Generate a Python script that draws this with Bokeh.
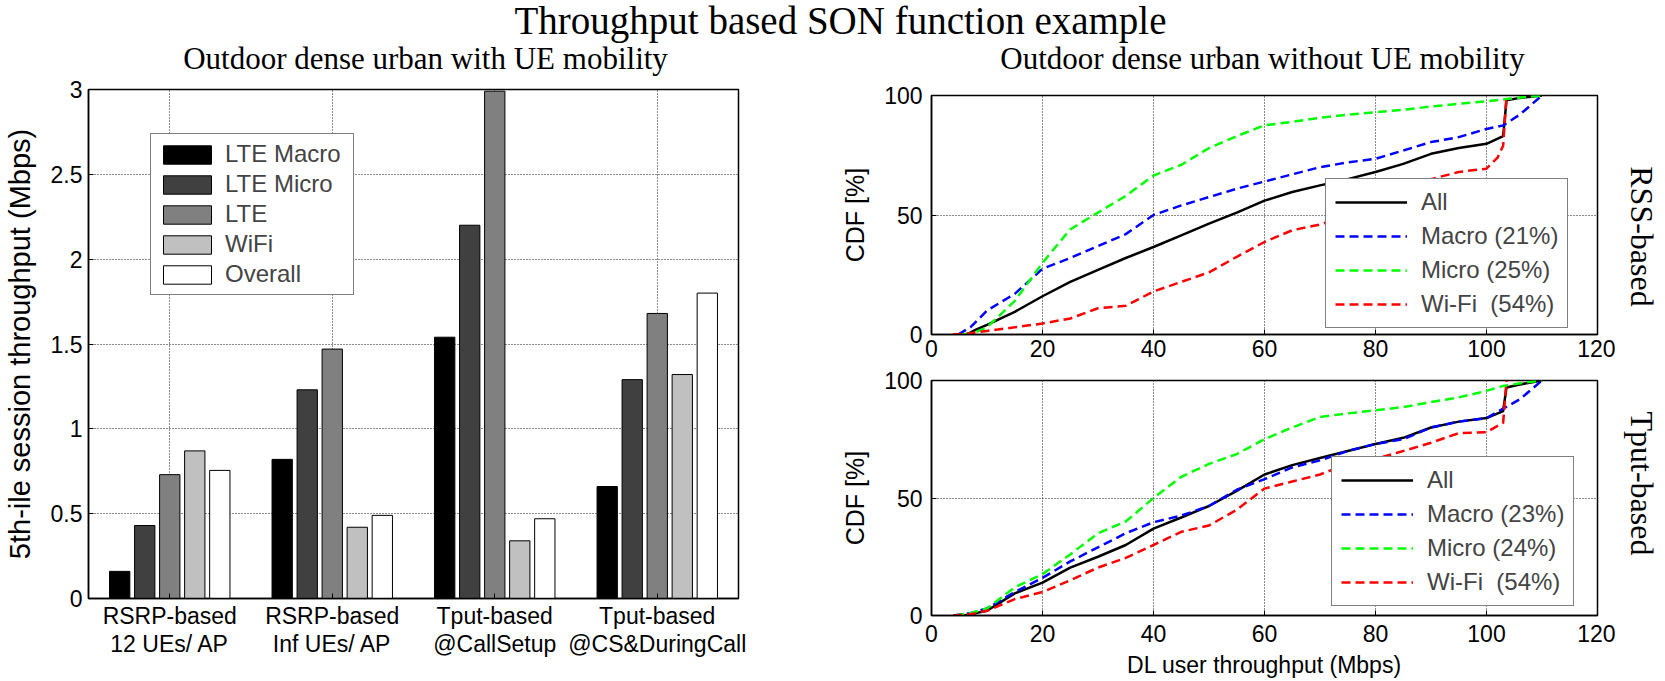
import math
from bokeh.plotting import figure
from bokeh.models import Legend, LegendItem, Label, FixedTicker
from bokeh.layouts import row, column
from bokeh.embed import file_html
from bokeh.resources import INLINE

SANS = "Liberation Sans"
SERIF = "Liberation Serif"

# ---------------- texts ----------------
main_title = "Throughput based SON function example"
left_subtitle = "Outdoor dense urban with UE mobility"
right_subtitle = "Outdoor dense urban without UE mobility"

# ---------------- data: left bar chart ----------------
categories = ["RSRP-based\n12 UEs/ AP", "RSRP-based\nInf UEs/ AP",
              "Tput-based\n@CallSetup", "Tput-based\n@CS&DuringCall"]
series_names = ["LTE Macro", "LTE Micro", "LTE", "WiFi", "Overall"]
lte_macro = [0.16, 0.82, 1.54, 0.66]
lte_micro = [0.43, 1.23, 2.20, 1.29]
lte_all = [0.73, 1.47, 2.99, 1.68]
wifi = [0.87, 0.42, 0.34, 1.32]
overall = [0.755, 0.49, 0.47, 1.80]
bar_colors = ["#000000", "#404040", "#808080", "#c0c0c0", "#ffffff"]
y_ticks_left = [0, 0.5, 1, 1.5, 2, 2.5, 3]
y_tick_labels_left = ["0", "0.5", "1", "1.5", "2", "2.5", "3"]

# ---------------- data: CDF, RSS-based ----------------
rss_all_x = [6.3, 8, 10, 15, 20, 25, 30, 35, 40, 45, 50, 55, 60, 65, 70, 75, 80, 85, 90, 95, 100, 103, 103.6, 106, 110]
rss_all_y = [0, 2, 4, 9.5, 16, 22, 27, 32, 36.6, 41.5, 46.4, 51, 56, 59.6, 62.4, 65, 68, 71.4, 75.6, 78, 79.8, 83, 98, 99, 100]
rss_macro_x = [4.8, 7, 10, 15, 20, 25, 30, 35, 40, 45, 50, 55, 60, 65, 70, 75, 80, 85, 90, 95, 100, 103, 106, 110]
rss_macro_y = [0, 3, 10, 17, 27.5, 32, 37, 42, 50, 54, 57.5, 61, 64, 67, 70, 72, 73.5, 77, 80.5, 82.6, 86, 87.5, 92, 100]
rss_micro_x = [5.6, 8, 10, 15, 20, 25, 30, 35, 40, 45, 50, 55, 60, 65, 70, 75, 80, 85, 90, 95, 100, 104, 110]
rss_micro_y = [0, 1, 3, 14, 30, 44, 51, 58, 66.5, 71, 78, 83, 87.5, 89, 90.7, 92, 93, 94, 95.4, 96.5, 97.6, 98.6, 100]
rss_wifi_x = [3.8, 7, 10, 15, 20, 25, 30, 35, 40, 45, 50, 55, 60, 65, 70, 75, 80, 85, 90, 95, 100, 102, 103, 103.6]
rss_wifi_y = [0, 0.5, 1.5, 3, 4.6, 6.7, 11, 12, 18, 22, 26, 32.5, 38.7, 43.6, 46, 50, 55, 60, 65, 68, 69.4, 74, 79, 100]
rss_labels = ["All", "Macro (21%)", "Micro (25%)", "Wi-Fi  (54%)"]

# ---------------- data: CDF, Tput-based ----------------
tp_all_x = [5.8, 8, 10, 15, 20, 25, 30, 35, 40, 45, 50, 55, 60, 65, 70, 75, 80, 85, 90, 95, 100, 103, 103.6, 106, 110]
tp_all_y = [0, 1, 2, 9.4, 14, 20.4, 25, 30, 37, 41.7, 46.6, 53, 60, 64, 67, 70, 73, 75.6, 80, 82.5, 84, 87, 97, 98.3, 100]
tp_macro_x = [3.9, 7, 10, 15, 20, 25, 30, 35, 40, 45, 50, 55, 60, 65, 70, 75, 80, 85, 90, 95, 100, 103, 106, 110]
tp_macro_y = [0, 1, 3, 10, 16, 23, 29, 35, 39.7, 42.5, 46.6, 53.5, 58, 63, 66, 70, 73, 75, 80, 82.5, 84, 88, 92, 100]
tp_micro_x = [4.3, 7, 10, 15, 20, 25, 30, 35, 40, 45, 50, 55, 60, 65, 70, 75, 80, 85, 90, 95, 100, 103, 108, 110]
tp_micro_y = [0, 1, 3, 12, 17.6, 26, 35, 40, 50, 59, 64.5, 68.7, 75, 80, 84.5, 86, 87.3, 88.7, 90.8, 92.8, 95.6, 97.7, 99.5, 100]
tp_wifi_x = [3.9, 7, 10, 15, 20, 25, 30, 35, 40, 45, 50, 55, 60, 65, 70, 75, 80, 85, 90, 95, 100, 103, 103.6]
tp_wifi_y = [0, 0.5, 2, 7, 10, 15, 20.4, 24.5, 30, 35.6, 38.3, 45, 54, 57, 60, 64.5, 66.6, 70, 73.5, 77.6, 78, 82, 100]
tp_labels = ["All", "Macro (23%)", "Micro (24%)", "Wi-Fi  (54%)"]

x_ticks_cdf = [0, 20, 40, 60, 80, 100, 120]
y_ticks_cdf = [0, 50, 100]
line_colors = ["#000000", "#0000ff", "#00ff00", "#ff0000"]


def style_axes(p, fs="23px"):
    p.outline_line_color = "black"
    p.outline_line_width = 1.5
    p.background_fill_color = "white"
    p.border_fill_color = "white"
    for ax in (p.xaxis[0], p.yaxis[0]):
        ax.axis_line_color = "black"
        ax.axis_line_width = 1.5
        ax.major_tick_in = 5
        ax.major_tick_out = 0
        ax.minor_tick_line_color = None
        ax.major_tick_line_color = "black"
        ax.major_label_text_font = SANS
        ax.major_label_text_font_size = fs
        ax.major_label_text_color = "black"
        ax.axis_label_text_font = SANS
        ax.axis_label_text_font_style = "normal"
        ax.axis_label_text_color = "black"
    for g in (p.xgrid[0], p.ygrid[0]):
        g.grid_line_color = "#000000"
        g.grid_line_alpha = 0.9
        g.grid_line_dash = "1 2"
        g.grid_line_width = 1


def strip(width, height):
    s = figure(width=width, height=height, x_range=(0, 1), y_range=(0, 1),
               output_backend="svg", toolbar_location=None, min_border=0,
               x_axis_location=None, y_axis_location=None)
    s.grid.visible = False
    s.outline_line_color = None
    return s


def serif_label(s, text, x, y, size, angle=0.0):
    s.add_layout(Label(x=x, y=y, x_units="screen", y_units="screen", text=text,
                       angle=angle, text_align="center", text_baseline="middle",
                       text_font=SERIF, text_font_size=size, text_color="black"))


# ---------------- title strip (main title + two subtitles) ----------------
p0 = strip(1665, 76)
serif_label(p0, main_title, 840, 56, "39px")
serif_label(p0, left_subtitle, 425, 18, "31px")
serif_label(p0, right_subtitle, 1262, 18, "31px")

# ---------------- left figure ----------------
p1 = figure(width=800, height=604, x_range=(0.5, 4.5), y_range=(0, 3),
            output_backend="svg", toolbar_location=None,
            min_border_left=88, min_border_right=62, min_border_top=13, min_border_bottom=82)
style_axes(p1)
groups = [1, 2, 3, 4]
step = 0.154
bar_renderers = []
for i, (vals, col) in enumerate(zip([lte_macro, lte_micro, lte_all, wifi, overall], bar_colors)):
    xs = [g + (i - 2) * step for g in groups]
    r = p1.vbar(x=xs, top=vals, bottom=0, width=0.125, fill_color=col,
                line_color="black", line_width=1)
    bar_renderers.append(r)

p1.xaxis.ticker = FixedTicker(ticks=groups)
p1.xaxis.major_label_overrides = {g: c for g, c in zip(groups, categories)}
p1.xaxis.major_label_text_line_height = 1.1
p1.xaxis.major_label_standoff = 4
p1.yaxis.ticker = FixedTicker(ticks=y_ticks_left)
p1.yaxis.major_label_overrides = {t: s for t, s in zip(y_ticks_left, y_tick_labels_left)}
p1.yaxis.major_label_standoff = 6
p1.yaxis.axis_label = "5th-ile session throughput (Mbps)"
p1.yaxis.axis_label_text_font_size = "29px"
p1.yaxis.axis_label_standoff = 12

leg1 = Legend(items=[LegendItem(label=n, renderers=[r]) for n, r in zip(series_names, bar_renderers)],
              location=(62, 303), glyph_width=60, glyph_height=23, label_height=23,
              label_width=122, spacing=2, padding=6, margin=0, label_standoff=8,
              label_text_font=SANS, label_text_font_size="24px",
              border_line_color="black", border_line_width=1.5,
              background_fill_color="white", background_fill_alpha=1.0)
p1.add_layout(leg1)


# ---------------- CDF figures ----------------
def cdf_fig(height, mbt, mbb, curves, labels, leg_loc, x_standoff, xlabel=None):
    p = figure(width=815, height=height, x_range=(0, 120), y_range=(0, 100),
               output_backend="svg", toolbar_location=None,
               min_border_left=131, min_border_right=18, min_border_top=mbt, min_border_bottom=mbb)
    style_axes(p)
    p.xaxis.ticker = FixedTicker(ticks=x_ticks_cdf)
    p.yaxis.ticker = FixedTicker(ticks=y_ticks_cdf)
    p.xaxis.major_label_standoff = x_standoff
    p.yaxis.major_label_standoff = 9
    p.yaxis.axis_label = "CDF [%]"
    p.yaxis.axis_label_text_font_size = "25px"
    p.yaxis.axis_label_standoff = 12
    if xlabel:
        p.xaxis.axis_label = xlabel
        p.xaxis.axis_label_text_font_size = "23px"
        p.xaxis.axis_label_standoff = 7
    rs = []
    for k, ((xs, ys), col) in enumerate(zip(curves, line_colors)):
        dash = "solid" if k == 0 else "9 5"
        rs.append(p.line(xs, ys, line_color=col, line_width=2.5, line_dash=dash))
    leg = Legend(items=[LegendItem(label=n, renderers=[r]) for n, r in zip(labels, rs)],
                 location=leg_loc, glyph_width=72, glyph_height=22, label_height=22,
                 spacing=6, padding=9, margin=0, label_standoff=14,
                 label_text_font=SANS, label_text_font_size="24px",
                 border_line_color="black", border_line_width=1.5,
                 background_fill_color="white", background_fill_alpha=1.0)
    p.add_layout(leg)
    return p


p2 = cdf_fig(290, 19, 32,
             [(rss_all_x, rss_all_y), (rss_macro_x, rss_macro_y),
              (rss_micro_x, rss_micro_y), (rss_wifi_x, rss_wifi_y)],
             rss_labels, (394, 6), 5)
s2 = strip(50, 290)
serif_label(s2, "RSS-based", 26, 98, "32px", angle=-math.pi / 2)

p3 = cdf_fig(314, 14, 64,
             [(tp_all_x, tp_all_y), (tp_macro_x, tp_macro_y),
              (tp_micro_x, tp_micro_y), (tp_wifi_x, tp_wifi_y)],
             tp_labels, (400, 9), 9, xlabel="DL user throughput (Mbps)")
s3 = strip(50, 314)
serif_label(s3, "Tput-based", 26, 132, "32px", angle=-math.pi / 2)

layout = column(p0, row(p1, column(row(p2, s2), row(p3, s3))))
open("out.html", "w").write(file_html(layout, INLINE))
